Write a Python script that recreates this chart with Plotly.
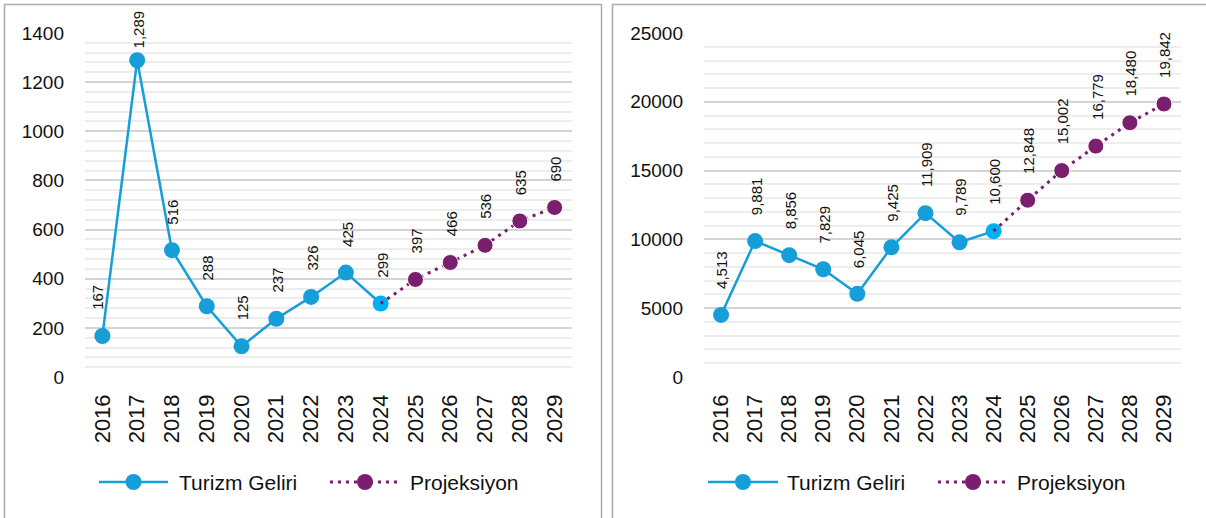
import plotly.graph_objects as go

# ---------------- data ----------------
years = ["2016", "2017", "2018", "2019", "2020", "2021", "2022",
         "2023", "2024", "2025", "2026", "2027", "2028", "2029"]
hist_years = years[:9]
proj_years = years[8:]          # projection starts at the last actual year

left_actual = [167, 1289, 516, 288, 125, 237, 326, 425, 299]
left_proj = [299, 397, 466, 536, 635, 690]

right_actual = [4513, 9881, 8856, 7829, 6045, 9425, 11909, 9789, 10600]
right_proj = [10600, 12848, 15002, 16779, 18480, 19842]

series_names = ["Turizm Geliri", "Projeksiyon"]

# ---------------- styling ----------------
W, H = 1206, 518
BLUE = "#159ED8"
BLUE_LAST = "#00B0F0"
PURPLE = "#7A1E6E"
TXT = "#111111"
FONT = "Liberation Sans, Arial, sans-serif"


def px_x(p):
    return p / W


def px_y(p):
    return 1 - p / H


fig = go.Figure()

panels = [
    dict(actual=left_actual, proj=left_proj, xa="x", ya="y",
         rng=1400, dtick=200, minor=40,
         yshift_override={1: 10}, xshift_override={0: -5}),
    dict(actual=right_actual, proj=right_proj, xa="x2", ya="y2",
         rng=25000, dtick=5000, minor=1000,
         yshift_override={}, xshift_override={}),
]

annotations = []
shapes = []

for p in panels:
    fig.add_trace(go.Scatter(
        x=hist_years, y=p["actual"], mode="lines+markers",
        line=dict(color=BLUE, width=2.5),
        marker=dict(color=[BLUE] * (len(p["actual"]) - 1) + [BLUE_LAST],
                    size=16, opacity=1),
        xaxis=p["xa"], yaxis=p["ya"], showlegend=False, hoverinfo="skip",
    ))
    fig.add_trace(go.Scatter(
        x=proj_years, y=p["proj"], mode="lines+markers",
        line=dict(color=PURPLE, width=3, dash="3px,5px"),
        marker=dict(color=PURPLE, opacity=1,
                    size=[0] + [16] * (len(p["proj"]) - 1)),
        xaxis=p["xa"], yaxis=p["ya"], showlegend=False, hoverinfo="skip",
    ))
    # data labels (rotated); x given as category index
    all_vals = p["actual"] + p["proj"][1:]
    for i, v in enumerate(all_vals):
        annotations.append(dict(
            x=i, y=v, xref=p["xa"], yref=p["ya"],
            text=f"{v:,}", showarrow=False, textangle=-90,
            xanchor="center", yanchor="bottom",
            yshift=p["yshift_override"].get(i, 24),
            xshift=p["xshift_override"].get(i, 1),
            font=dict(family=FONT, size=15, color=TXT),
        ))

axis_common_x = dict(
    type="category", categoryorder="array", categoryarray=years,
    range=[-0.5, 13.5], showgrid=False, zeroline=False, automargin=False,
    showline=False, tickangle=-90, ticks="", ticklabelstandoff=12,
    tickfont=dict(family=FONT, size=22, color=TXT), fixedrange=True,
)


def yaxis(p):
    return dict(
        range=[0, p["rng"]], dtick=p["dtick"], tick0=0, tickformat="d",
        showgrid=True, gridcolor="#D4D4D4", gridwidth=2, zeroline=False,
        showline=False, ticks="", ticklabelstandoff=20, automargin=False,
        tickfont=dict(family=FONT, size=19, color=TXT),
        minor=dict(dtick=p["minor"], tick0=0, showgrid=True,
                   gridcolor="#EDEDED", gridwidth=2),
        fixedrange=True,
    )


yb, yt = px_y(377), px_y(33)
fig.update_layout(
    xaxis=dict(domain=[px_x(85), px_x(572)], anchor="y", **axis_common_x),
    yaxis=dict(domain=[yb, yt], anchor="x", **yaxis(panels[0])),
    xaxis2=dict(domain=[px_x(704), px_x(1181)], anchor="y2", **axis_common_x),
    yaxis2=dict(domain=[yb, yt], anchor="x2", **yaxis(panels[1])),
)

# panel borders
shapes.append(dict(type="rect", xref="paper", yref="paper",
                   x0=px_x(4.5), x1=px_x(601.5), y0=-0.05, y1=px_y(4.5),
                   line=dict(color="#ADADAD", width=1.5), layer="below"))
shapes.append(dict(type="rect", xref="paper", yref="paper",
                   x0=px_x(612.5), x1=1.05, y0=-0.05, y1=px_y(4.5),
                   line=dict(color="#ADADAD", width=1.5), layer="below"))

# manual legends (long symbol lines like the original)
LEG_Y = px_y(482)
legend_items = [
    # (line x0, line x1, text x, colour, dash, name)
    (99, 168, 177, BLUE, "solid", series_names[0]),
    (330, 400, 408, PURPLE, "3px,5px", series_names[1]),
    (708, 778, 785, BLUE, "solid", series_names[0]),
    (938, 1008, 1015, PURPLE, "3px,5px", series_names[1]),
]
for x0, x1, tx, col, dash, name in legend_items:
    shapes.append(dict(type="line", xref="paper", yref="paper",
                       x0=px_x(x0), x1=px_x(x1), y0=LEG_Y, y1=LEG_Y,
                       line=dict(color=col, width=3 if dash != "solid" else 2.5,
                                 dash=dash)))
    xc = px_x((x0 + x1) / 2)
    shapes.append(dict(type="circle", xref="paper", yref="paper",
                       xsizemode="pixel", ysizemode="pixel",
                       xanchor=xc, yanchor=LEG_Y,
                       x0=-8, x1=8, y0=-8, y1=8,
                       fillcolor=col, line=dict(color=col, width=0)))
    annotations.append(dict(x=px_x(tx), y=LEG_Y, xref="paper", yref="paper",
                            text=name, showarrow=False, xanchor="left",
                            yanchor="middle",
                            font=dict(family=FONT, size=21, color=TXT)))

fig.update_layout(
    width=W, height=H,
    margin=dict(l=0, r=0, t=0, b=0, pad=0, autoexpand=False),
    paper_bgcolor="white", plot_bgcolor="white",
    showlegend=False, shapes=shapes, annotations=annotations,
)

fig.write_html("out.html",
               config={"displayModeBar": False},
               post_script="document.body.style.margin='0';"
                           "document.body.style.overflow='hidden';")
